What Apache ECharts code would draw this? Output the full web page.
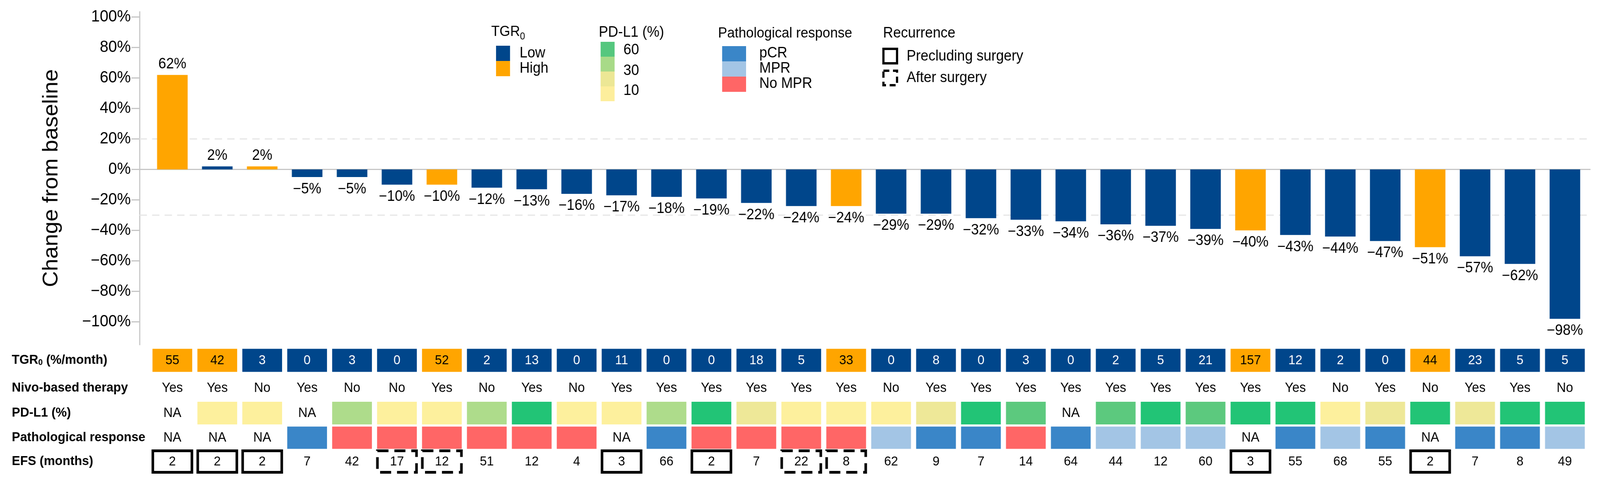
<!DOCTYPE html>
<html>
<head>
<meta charset="utf-8">
<script src="https://cdn.jsdelivr.net/npm/echarts@6/dist/echarts.min.js"></script>
<style>html,body{margin:0;padding:0;background:#fff;overflow:hidden}#c{width:4345px;height:1241px;transform-origin:0 0}</style>
</head>
<body>
<div id="c"></div>
<script>
// ---------------- DATA ----------------
const categories = ['1','2','3','4','5','6','7','8','9','10','11','12','13','14','15','16','17','18','19','20','21','22','23','24','25','26','27','28','29','30','31','32'];
const changePct = [62,2,2,-5,-5,-10,-10,-12,-13,-16,-17,-18,-19,-22,-24,-24,-29,-29,-32,-33,-34,-36,-37,-39,-40,-43,-44,-47,-51,-57,-62,-98];
const barTGR = ['High','Low','High','Low','Low','Low','High','Low','Low','Low','Low','Low','Low','Low','Low','High','Low','Low','Low','Low','Low','Low','Low','Low','High','Low','Low','Low','High','Low','Low','Low'];
const tgrRate = [55,42,3,0,3,0,52,2,13,0,11,0,0,18,5,33,0,8,0,3,0,2,5,21,157,12,2,0,44,23,5,5];
const tgrGroup = ['High','High','Low','Low','Low','Low','High','Low','Low','Low','Low','Low','Low','Low','Low','High','Low','Low','Low','Low','Low','Low','Low','Low','High','Low','Low','Low','High','Low','Low','Low'];
const nivoTherapy = ['Yes','Yes','No','Yes','No','No','Yes','No','Yes','No','Yes','Yes','Yes','Yes','Yes','Yes','No','Yes','Yes','Yes','Yes','Yes','Yes','Yes','Yes','Yes','No','Yes','No','Yes','Yes','No'];
const pdl1Pct = [null,5,5,null,30,5,5,30,70,5,5,30,70,15,5,5,5,15,70,50,null,50,70,50,70,70,5,15,70,15,70,70];
const pathResponse = ['NA','NA','NA','pCR','No MPR','No MPR','No MPR','No MPR','No MPR','No MPR','NA','pCR','No MPR','No MPR','No MPR','No MPR','MPR','pCR','pCR','No MPR','pCR','MPR','MPR','MPR','NA','pCR','MPR','pCR','NA','pCR','pCR','MPR'];
const efsMonths = [2,2,2,7,42,17,12,51,12,4,3,66,2,7,22,8,62,9,7,14,64,44,12,60,3,55,68,55,2,7,8,49];
const recurrence = ['pre','pre','pre','','','post','post','','','','pre','','pre','','post','post','','','','','','','','','pre','','','','pre','','',''];
const yTicks = [-100,-80,-60,-40,-20,0,20,40,60,80,100];
const refLines = [20,-30];
const rowLabels = ['TGR0 (%/month)','Nivo-based therapy','PD-L1 (%)','Pathological response','EFS (months)'];
const tgrLegend = ['Low','High'];
const pdl1Legend = ['60','30','10'];
const pathLegend = ['pCR','MPR','No MPR'];
const recurLegend = ['Precluding surgery','After surgery'];

// ---------------- STYLE / LAYOUT ----------------
const W = 4345, H = 1241;
const box = document.getElementById('c');
const sx = (window.innerWidth || W) / W, sy = (window.innerHeight || H) / H;
box.style.transform = 'scale(' + sx + ',' + sy + ')';

const FF = "'Liberation Sans', Arial, sans-serif";
const BLUE = '#00468B', ORANGE = '#FFA500';
const PATH_COL = {'pCR':'#3A86C8','MPR':'#A3C5E5','No MPR':'#FF6666'};
function pdl1Color(v){
  if (v >= 60) return '#22C476';
  if (v >= 40) return '#5CC97E';
  if (v >= 25) return '#AEDC8B';
  if (v >= 10) return '#EEE898';
  return '#FDF09D';
}
const GL = 379, GR = 27;
const XMIN = -0.73, XMAX = 31.56;
const ROW_Y = [42, 113, 177, 240, 301];  // pixel offsets inside the table grid
const CELL_FRAC = 0.885;
const LEG = 38;
const pct = v => (v < 0 ? '\u2212' : '') + Math.abs(v) + '%';

function cellGeom(api, i, row, h) {
  const c = api.coord([i, ROW_Y[row]]);
  const w = api.size([1, 0])[0] * CELL_FRAC;
  return {cx: c[0], cy: c[1], x: c[0] - w / 2, y: c[1] - h / 2, w: w, h: h};
}
function txt(x, y, s, color, size, weight) {
  return {type: 'text', x: x, y: y, style: {text: s, fill: color || '#000', font: (weight || 'normal') + ' ' + (size || 34) + 'px ' + FF, align: 'center', verticalAlign: 'middle', textAlign: 'center', textVerticalAlign: 'middle'}};
}

const chart = echarts.init(box, null, {renderer: 'canvas', width: W, height: H});

const series = [];
series.push({
  type: 'bar', xAxisIndex: 0, yAxisIndex: 0, barWidth: 83,
  data: changePct.map((v, i) => ({
    value: [i, v],
    itemStyle: {color: barTGR[i] === 'High' ? ORANGE : BLUE},
    label: {position: v >= 0 ? 'top' : 'bottom', distance: v >= 0 ? 8 : 12}
  })),
  label: {show: true, formatter: p => pct(p.value[1]), fontSize: 38, fontFamily: FF, color: '#000'},
  markLine: {
    silent: true, symbol: 'none', z: 1,
    label: {show: false},
    lineStyle: {color: '#e6e6e6', type: [20, 14], width: 3},
    data: refLines.map(v => ({yAxis: v}))
  }
});

// TGR row
series.push({
  type: 'custom', xAxisIndex: 1, yAxisIndex: 1,
  data: tgrRate.map((v, i) => [i, 0]),
  renderItem: (params, api) => {
    const i = api.value(0);
    const g = cellGeom(api, i, 0, 59);
    const high = tgrGroup[i] === 'High';
    return {type: 'group', children: [
      {type: 'rect', shape: {x: g.x, y: g.y, width: g.w, height: g.h}, style: {fill: high ? ORANGE : BLUE}},
      txt(g.cx, g.cy + 1, String(tgrRate[i]), high ? '#000' : '#fff', 34)
    ]};
  }
});
// Nivo row
series.push({
  type: 'custom', xAxisIndex: 1, yAxisIndex: 1,
  data: nivoTherapy.map((v, i) => [i, 0]),
  renderItem: (params, api) => {
    const i = api.value(0);
    const g = cellGeom(api, i, 1, 58);
    return {type: 'group', children: [txt(g.cx, g.cy, nivoTherapy[i], '#000', 35)]};
  }
});
// PD-L1 row
series.push({
  type: 'custom', xAxisIndex: 1, yAxisIndex: 1,
  data: pdl1Pct.map((v, i) => [i, 0]),
  renderItem: (params, api) => {
    const i = api.value(0);
    const g = cellGeom(api, i, 2, 58);
    const v = pdl1Pct[i];
    if (v == null) return {type: 'group', children: [txt(g.cx, g.cy, 'NA', '#000', 35)]};
    return {type: 'rect', shape: {x: g.x, y: g.y, width: g.w, height: g.h}, style: {fill: pdl1Color(v)}};
  }
});
// Pathological response row
series.push({
  type: 'custom', xAxisIndex: 1, yAxisIndex: 1,
  data: pathResponse.map((v, i) => [i, 0]),
  renderItem: (params, api) => {
    const i = api.value(0);
    const g = cellGeom(api, i, 3, 57);
    const v = pathResponse[i];
    if (v === 'NA') return {type: 'group', children: [txt(g.cx, g.cy, 'NA', '#000', 35)]};
    return {type: 'rect', shape: {x: g.x, y: g.y, width: g.w, height: g.h}, style: {fill: PATH_COL[v]}};
  }
});
// EFS row
series.push({
  type: 'custom', xAxisIndex: 1, yAxisIndex: 1,
  data: efsMonths.map((v, i) => [i, 0]),
  renderItem: (params, api) => {
    const i = api.value(0);
    const c = api.coord([i, ROW_Y[4]]);
    const w = api.size([1, 0])[0] * 0.87;
    const h = 55;
    const children = [];
    const r = recurrence[i];
    if (r) {
      children.push({type: 'rect', shape: {x: c[0] - w / 2, y: c[1] - h / 2, width: w, height: h},
        style: {fill: 'none', stroke: '#000', lineWidth: 7, lineDash: r === 'post' ? [30, 16] : null}});
    }
    children.push(txt(c[0], c[1] + 1, String(efsMonths[i]), '#000', 34));
    return {type: 'group', children: children};
  }
});

// ---------------- LEGENDS (graphic) ----------------
const graphic = [];
function gText(x, y, s, size) {
  return {type: 'text', x: x, y: y, style: {text: s, fill: '#000', font: (size || LEG) + 'px ' + FF, verticalAlign: 'middle', textVerticalAlign: 'middle'}};
}
// TGR0
graphic.push({type: 'text', x: 1334, y: 82, style: {text: '{a|TGR}{b|0}', fill: '#000', verticalAlign: 'middle', rich: {a: {fontSize: 37, fontFamily: FF, verticalAlign: 'bottom'}, b: {fontSize: 25, fontFamily: FF, verticalAlign: 'bottom', padding: [0, 0, -6, 0]}}}});
[BLUE, ORANGE].forEach((col, k) => {
  graphic.push({type: 'rect', shape: {x: 1347, y: 117 + k * 39, width: 38, height: 39}, style: {fill: col}});
  graphic.push(gText(1411, 137 + k * 39, tgrLegend[k], LEG));
});
// PD-L1
graphic.push(gText(1626, 84, 'PD-L1 (%)', LEG));
['#55C77E', '#A8DA88', '#ECE795', '#FDEE9C'].forEach((col, k) => {
  graphic.push({type: 'rect', shape: {x: 1631, y: 107 + k * 38, width: 38, height: 38}, style: {fill: col}});
});
[129, 182, 233].forEach((yy, k) => graphic.push(gText(1693, yy, pdl1Legend[k], LEG)));
// Pathological response
graphic.push(gText(1950, 86, 'Pathological response', 37));
pathLegend.forEach((name, k) => {
  graphic.push({type: 'rect', shape: {x: 1961, y: 118 + k * 39, width: 65, height: 39}, style: {fill: PATH_COL[name]}});
  graphic.push(gText(2062, 137 + k * 39, name, LEG));
});
// Recurrence
graphic.push(gText(2398, 86, 'Recurrence', LEG));
graphic.push({type: 'rect', shape: {x: 2399, y: 125, width: 37, height: 37}, style: {fill: 'none', stroke: '#000', lineWidth: 6}});
graphic.push(gText(2462, 145, recurLegend[0], LEG));
graphic.push({type: 'rect', shape: {x: 2399, y: 181, width: 37, height: 37}, style: {fill: 'none', stroke: '#000', lineWidth: 6, lineDash: [16, 10]}});
graphic.push(gText(2462, 200, recurLegend[1], LEG));

const option = {
  animation: false,
  backgroundColor: '#fff',
  grid: [
    {left: GL, right: GR, top: 30, height: 852},
    {left: GL, right: GR, top: 880, height: 340}
  ],
  xAxis: [
    {gridIndex: 0, type: 'value', min: XMIN, max: XMAX,
      axisLine: {show: true, onZero: true, lineStyle: {color: '#c6c6c6', width: 3}},
      axisTick: {show: false}, axisLabel: {show: false}, splitLine: {show: false}},
    {gridIndex: 1, type: 'value', min: XMIN, max: XMAX, show: false}
  ],
  yAxis: [
    {gridIndex: 0, type: 'value', min: -115, max: 103.5,
      name: 'Change from baseline', nameLocation: 'middle', nameGap: 210,
      nameTextStyle: {fontSize: 57, fontFamily: FF, color: '#000'},
      axisLine: {show: true, onZero: false, lineStyle: {color: '#c6c6c6', width: 3}},
      axisTick: {show: true, length: 22, lineStyle: {color: '#c6c6c6', width: 3}, customValues: yTicks},
      axisLabel: {customValues: yTicks, formatter: v => pct(v), fontSize: 42, fontFamily: FF, color: '#000', margin: 24},
      splitLine: {show: false}},
    {gridIndex: 1, type: 'value', min: 0, max: 340, inverse: true,
      axisLine: {show: false, onZero: false}, axisTick: {show: false}, splitLine: {show: false},
      axisLabel: {
        customValues: ROW_Y, align: 'left', margin: GL - 32,
        fontSize: 34, fontWeight: 'bold', fontFamily: FF, color: '#000',
        formatter: v => {
          const k = ROW_Y.indexOf(v);
          if (k === 0) return '{b|TGR}{s|0}{b| (%/month)}';
          return k >= 0 ? rowLabels[k] : '';
        },
        rich: {
          b: {fontSize: 34, fontWeight: 'bold', fontFamily: FF, color: '#000', verticalAlign: 'bottom'},
          s: {fontSize: 22, fontWeight: 'bold', fontFamily: FF, color: '#000', verticalAlign: 'bottom'}
        }
      }}
  ],
  series: series,
  graphic: graphic
};
chart.setOption(option);
</script>
</body>
</html>
